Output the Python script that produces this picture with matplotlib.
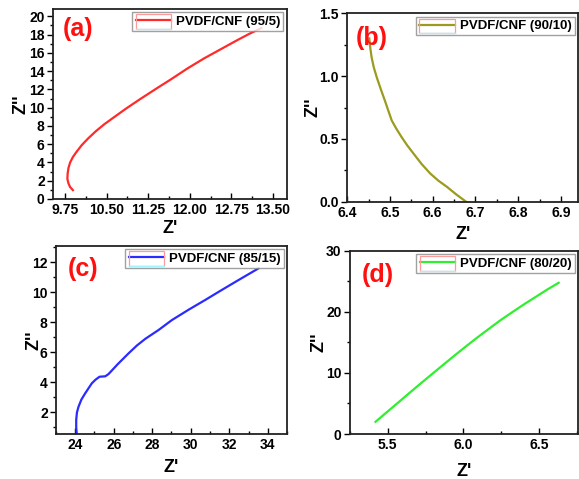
import matplotlib
matplotlib.use("Agg")
import matplotlib.pyplot as plt
from matplotlib.patches import Rectangle
from matplotlib.lines import Line2D
from matplotlib.ticker import MultipleLocator, AutoMinorLocator, FormatStrFormatter

plt.rcParams["font.family"] = ["Liberation Sans", "DejaVu Sans"]
plt.rcParams["font.weight"] = "bold"

# ---- data
a_x = [9.89, 9.84, 9.81, 9.79, 9.795, 9.81, 9.84, 9.89, 9.96, 10.05, 10.16, 10.30, 10.46,
       10.62, 10.85, 11.12, 11.40, 11.66, 11.96, 12.26, 12.56, 12.86, 13.08, 13.29]
a_y = [0.97, 1.3, 1.7, 2.2, 2.8, 3.4, 4.0, 4.6, 5.2, 5.9, 6.6, 7.4, 8.2,
       8.9, 9.9, 11.0, 12.1, 13.1, 14.3, 15.4, 16.4, 17.4, 18.1, 18.7]

b_x = [6.4515, 6.454, 6.457, 6.462, 6.469, 6.478, 6.488, 6.496, 6.504, 6.515, 6.527,
       6.540, 6.555, 6.574, 6.594, 6.613, 6.633, 6.655, 6.678]
b_y = [1.30, 1.22, 1.148, 1.07, 0.99, 0.90, 0.805, 0.725, 0.647, 0.58, 0.515,
       0.45, 0.383, 0.30, 0.225, 0.168, 0.119, 0.058, 0.0]

c_x = [24.08, 24.05, 24.05, 24.09, 24.17, 24.32, 24.52, 24.70, 24.86, 25.05, 25.26, 25.56,
       25.73, 26.20, 26.77, 27.20, 27.64, 28.33, 29.02, 29.90, 30.75, 31.60, 32.48, 33.52]
c_y = [0.53, 1.0, 1.49, 2.0, 2.37, 2.85, 3.27, 3.62, 3.93, 4.17, 4.37, 4.40,
       4.55, 5.2, 5.93, 6.45, 6.90, 7.49, 8.15, 8.85, 9.49, 10.15, 10.82, 11.6]

d_x = [5.419, 5.49, 5.562, 5.64, 5.717, 5.795, 5.871, 5.94, 6.003, 6.08, 6.158, 6.245,
       6.334, 6.41, 6.490, 6.56, 6.632]
d_y = [2.0, 3.5, 5.0, 6.65, 8.25, 9.85, 11.4, 12.8, 14.05, 15.55, 17.0, 18.6,
       20.1, 21.35, 22.6, 23.7, 24.75]

panels = [
    # tag, x, y, color, legend, rect, xlim, ylim, xmajor, ymajor, tagpos, xlab, ylab
    ("(a)", a_x, a_y, "#ff2a2a", "PVDF/CNF (95/5)", [0.0915, 0.5846, 0.4037, 0.3966],
     (9.53, 13.75), (0, 20.8), 0.75, 2, (0.04, 0.895), -0.11, -0.10),
    ("(b)", b_x, b_y, "#9b9b1f", "PVDF/CNF (90/10)", [0.5998, 0.5789, 0.3985, 0.3933],
     (6.4, 6.94), (0, 1.5), 0.1, 0.5, (0.035, 0.87), -0.13, -0.11),
    ("(c)", c_x, c_y, "#2b2bff", "PVDF/CNF (85/15)", [0.0967, 0.0933, 0.3990, 0.3934],
     (23, 35), (0.53, 13.1), 2, 2, (0.05, 0.878), -0.13, -0.06),
    ("(d)", d_x, d_y, "#30ee30", "PVDF/CNF (80/20)", [0.6045, 0.0939, 0.3938, 0.3827],
     (5.25, 6.76), (0, 30), 0.5, 10, (0.05, 0.87), -0.16, -0.10),
]

fig = plt.figure(figsize=(5.79, 4.79), dpi=100)
legends = []

for tag, xs, ys, color, lab, rect, xlim, ylim, xmaj, ymaj, tagpos, xlp, ylp in panels:
    ax = fig.add_axes(rect)
    ax.plot(xs, ys, color=color, lw=1.6, label=lab)
    ax.set_xlim(*xlim)
    ax.set_ylim(*ylim)
    ax.xaxis.set_major_locator(MultipleLocator(xmaj))
    ax.yaxis.set_major_locator(MultipleLocator(ymaj))
    ax.xaxis.set_minor_locator(AutoMinorLocator(2))
    ax.yaxis.set_minor_locator(AutoMinorLocator(2))
    ax.tick_params(axis="x", which="both", direction="in", top=False, labelsize=10, pad=3)
    ax.tick_params(axis="y", which="both", direction="out", right=False, labelsize=10, pad=2)
    ax.tick_params(which="major", length=4, width=1)
    ax.tick_params(which="minor", length=2.5, width=1)
    if tag == "(a)":
        ax.xaxis.set_major_formatter(FormatStrFormatter("%.2f"))
    for s in ax.spines.values():
        s.set_linewidth(1.3)
        s.set_color("#222222")
    ax.set_xlabel("Z'", fontsize=13, fontweight="bold")
    ax.set_ylabel("Z''", fontsize=13, fontweight="bold")
    ax.xaxis.set_label_coords(0.5, xlp)
    ax.yaxis.set_label_coords(ylp, 0.5)
    ax.text(tagpos[0], tagpos[1], tag, transform=ax.transAxes, color="#ff1010",
            fontsize=18, fontweight="bold", ha="left", va="center")
    leg = ax.legend(loc="upper right", prop={"weight": "bold", "size": 9.5},
                    frameon=True, fancybox=False, edgecolor="#8a8a8a",
                    borderaxespad=0.25, handlelength=2.7, handletextpad=0.35,
                    borderpad=0.25)
    leg.get_frame().set_linewidth(1.0)
    legends.append(leg)

# Origin-style artefacts around the legend handle (pink box + cyan underline)
fig.canvas.draw()
rend = fig.canvas.get_renderer()
inv = fig.transFigure.inverted()
for leg in legends:
    fb = leg.get_frame().get_window_extent(rend)
    hb = leg.legend_handles[0].get_window_extent(rend)
    x0, y0 = inv.transform((hb.x0, fb.y0 + 2))
    x1, y1 = inv.transform((hb.x1, fb.y1 - 2))
    fig.add_artist(Rectangle((x0, y0), x1 - x0, y1 - y0, transform=fig.transFigure,
                             fill=False, edgecolor="#ff9a9a", lw=0.9))
    fig.add_artist(Line2D([x0, x1], [y0, y0], transform=fig.transFigure,
                          color="#9ff5ff", lw=1.0))

fig.savefig("out.png", dpi=100)
